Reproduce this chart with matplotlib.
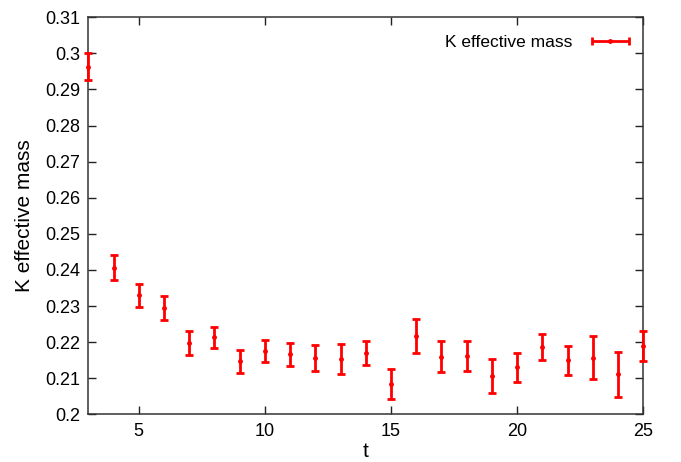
import numpy as np
import matplotlib
matplotlib.use("Agg")
import matplotlib.pyplot as plt
from matplotlib.container import ErrorbarContainer
from matplotlib.legend_handler import HandlerErrorbar

t = list(range(3, 26))
mass = [0.2963, 0.2406, 0.2330, 0.2295, 0.2198, 0.2213, 0.2147, 0.2176,
        0.2166, 0.2156, 0.2153, 0.2169, 0.2084, 0.2218, 0.2160, 0.2162,
        0.2107, 0.2130, 0.2186, 0.2150, 0.2157, 0.2111, 0.2189]
err = [0.0037, 0.0035, 0.0032, 0.0034, 0.0033, 0.0030, 0.0032, 0.0030,
       0.0031, 0.0035, 0.0041, 0.0033, 0.0042, 0.0047, 0.0043, 0.0042,
       0.0047, 0.0041, 0.0036, 0.0040, 0.0060, 0.0063, 0.0042]
xticks = [5, 10, 15, 20, 25]
yticks = [0.2, 0.21, 0.22, 0.23, 0.24, 0.25, 0.26, 0.27, 0.28, 0.29, 0.3, 0.31]
ytick_labels = ["0.2", "0.21", "0.22", "0.23", "0.24", "0.25", "0.26", "0.27",
                "0.28", "0.29", "0.3", "0.31"]

plt.rcParams['font.family'] = ['Liberation Sans', 'DejaVu Sans']

fig = plt.figure(figsize=(6.81, 4.62), dpi=100)
ax = fig.add_axes([0.1297, 0.1032, 0.8149, 0.8594])

red = '#ff0000'
ax.errorbar(t, mass, yerr=err, fmt='o', color=red, ms=2.5, elinewidth=2,
            capsize=3, capthick=2, clip_on=False, zorder=3)
# legend proxy with horizontal error bar (gnuplot style)
proxy = ax.errorbar([np.nan], [np.nan], xerr=[np.nan], fmt='o', color=red,
                    ms=2.5, elinewidth=2, capsize=3, capthick=2,
                    label='K effective mass')

ax.set_xlim(3, 25)
ax.set_ylim(0.2, 0.31)
ax.set_xticks(xticks)
ax.set_xticklabels([str(x) for x in xticks])
ax.set_yticks(yticks)
ax.set_yticklabels(ytick_labels)
ax.tick_params(direction='in', length=6, width=1, top=True, right=True,
               labelsize=13, pad=6, colors='#222222', labelcolor='black')
for s in ax.spines.values():
    s.set_linewidth(1.1)
    s.set_color('#333333')

ax.set_xlabel('t', fontsize=15, labelpad=2)
ax.set_ylabel('K effective mass', fontsize=15, labelpad=8)

leg = ax.legend(handles=[proxy], loc='upper right', bbox_to_anchor=(1.0, 0.99),
                frameon=False, markerfirst=False, fontsize=12.5,
                handlelength=2.2, handletextpad=1.1, borderaxespad=0.4,
                handler_map={ErrorbarContainer: HandlerErrorbar(xerr_size=1.05)})

fig.savefig('out.png', dpi=100)
